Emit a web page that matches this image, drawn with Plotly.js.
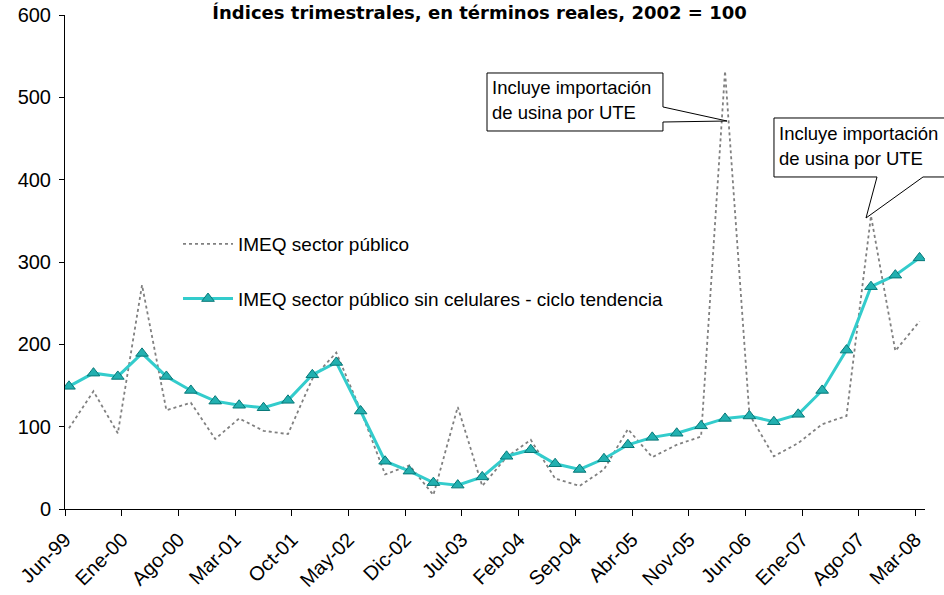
<!DOCTYPE html>
<html>
<head>
<meta charset="utf-8">
<script src="https://cdn.plot.ly/plotly-3.0.1.min.js"></script>
<style>html,body{margin:0;padding:0;background:#fff;}#chart{width:944px;height:595px;}</style>
</head>
<body>
<div id="chart"></div>
<script>
// Quarterly periods (month of quarter end)
const quarters = [
  '1999-06','1999-09','1999-12','2000-03','2000-06','2000-09','2000-12','2001-03',
  '2001-06','2001-09','2001-12','2002-03','2002-06','2002-09','2002-12','2003-03',
  '2003-06','2003-09','2003-12','2004-03','2004-06','2004-09','2004-12','2005-03',
  '2005-06','2005-09','2005-12','2006-03','2006-06','2006-09','2006-12','2007-03',
  '2007-06','2007-09','2007-12','2008-03'
];
// IMEQ sector público
const imeqPublico = [
  98,143,92,272,120,129,85,110,
  95,91,158,190,120,42,53,17,
  124,28,63,84,37,28,48,97,
  63,78,88,532,115,64,80,103,
  113,356,192,228
];
// IMEQ sector público sin celulares - ciclo tendencia
const imeqSinCel = [
  149,165,161,189,161,144,131,126,
  123,132,163,178,119,58,46,32,
  29,39,64,72,55,48,61,78,
  87,92,101,110,113,106,115,144,
  193,270,284,305
];
const tickDates = [
  '1999-06-01','2000-01-01','2000-08-01','2001-03-01','2001-10-01','2002-05-01',
  '2002-12-01','2003-07-01','2004-02-01','2004-09-01','2005-04-01','2005-11-01',
  '2006-06-01','2007-01-01','2007-08-01','2008-03-01'
];
const tickLabels = [
  'Jun-99','Ene-00','Ago-00','Mar-01','Oct-01','May-02','Dic-02','Jul-03',
  'Feb-04','Sep-04','Abr-05','Nov-05','Jun-06','Ene-07','Ago-07','Mar-08'
];
const seriesNames = ['IMEQ sector público','IMEQ sector público sin celulares - ciclo tendencia'];
const noteText = ['Incluye importación','de usina por UTE'];
const titleText = 'Índices trimestrales, en términos reales, 2002 = 100';

// plot-area pixel geometry -> paper coordinates for callouts
const W = 944, H = 595, ML = 65, MR = 19, MT = 15, MB = 86;
const PW = W - ML - MR, PH = H - MT - MB;
const px = X => (X - ML) / PW;
const py = Y => (H - MB - Y) / PH;
function poly(pts){ return 'M' + pts.map(p => px(p[0]).toFixed(4) + ',' + py(p[1]).toFixed(4)).join(' L') + ' Z'; }

const font = 'Liberation Sans, Arial, sans-serif';

const traces = [
  {
    x: quarters, y: imeqPublico, name: seriesNames[0], type: 'scatter', mode: 'lines',
    xperiod: 'M1', xperiodalignment: 'middle',
    line: {color: '#808080', width: 1.8, dash: 'dot'},
    legendgroup: 'a'
  },
  {
    x: quarters, y: imeqSinCel, name: seriesNames[1], type: 'scatter', mode: 'lines+markers',
    xperiod: 'M1', xperiodalignment: 'middle',
    line: {color: '#33CCCC', width: 3},
    marker: {symbol: 'triangle-up', size: 11, color: '#22B0B0', line: {color: '#077878', width: 1}},
    legendgroup: 'b'
  }
];

const layout = {
  width: W, height: H,
  margin: {l: ML, r: MR, t: MT, b: MB},
  paper_bgcolor: '#fff', plot_bgcolor: '#fff',
  font: {family: font, size: 17, color: '#000'},
  title: {
    text: titleText, xref: 'container', yref: 'container', x: 0.508, y: 0.99, yanchor: 'top',
    font: {family: 'DejaVu Sans, Verdana, sans-serif', size: 18, weight: 'bold', color: '#000'}
  },
  showlegend: true,
  legend: {
    x: px(178), y: py(225), xanchor: 'left', yanchor: 'top',
    bgcolor: 'rgba(0,0,0,0)', font: {family: font, size: 19, color: '#000'},
    tracegroupgap: 27, itemwidth: 50
  },
  xaxis: {
    type: 'date', range: ['1999-06-01', '2008-04-06'],
    tickmode: 'array', tickvals: tickDates, ticktext: tickLabels,
    tickangle: -45, ticks: 'outside', ticklen: 6, tickcolor: '#000',
    ticklabelstandoff: 4,
    showline: true, linecolor: '#000', linewidth: 1,
    showgrid: false, zeroline: false,
    tickfont: {family: font, size: 20, color: '#000'}
  },
  yaxis: {
    range: [0, 600], dtick: 100, tick0: 0,
    ticks: 'outside', ticklen: 5, tickcolor: '#000',
    ticklabelstandoff: 4,
    showline: true, linecolor: '#000', linewidth: 1,
    showgrid: false, zeroline: false,
    tickfont: {family: font, size: 20, color: '#000'}
  },
  shapes: [
    {type: 'path', xref: 'paper', yref: 'paper', layer: 'above',
     path: poly([[487,73],[663,73],[663,107],[727,121],[663,122],[663,131],[487,131]]),
     line: {color: '#000', width: 1}, fillcolor: '#fff'},
    {type: 'path', xref: 'paper', yref: 'paper', layer: 'above',
     path: poly([[774,118],[960,118],[960,177],[923,177],[866,218],[877,177],[774,177]]),
     line: {color: '#000', width: 1}, fillcolor: '#fff'}
  ],
  annotations: [
    {xref: 'paper', yref: 'paper', x: px(490), y: py(87), xanchor: 'left', yanchor: 'middle',
     text: noteText[0], showarrow: false, font: {family: font, size: 18.5, color: '#000'}},
    {xref: 'paper', yref: 'paper', x: px(490), y: py(112), xanchor: 'left', yanchor: 'middle',
     text: noteText[1], showarrow: false, font: {family: font, size: 18.5, color: '#000'}},
    {xref: 'paper', yref: 'paper', x: px(777), y: py(133), xanchor: 'left', yanchor: 'middle',
     text: noteText[0], showarrow: false, font: {family: font, size: 18.5, color: '#000'}},
    {xref: 'paper', yref: 'paper', x: px(777), y: py(158), xanchor: 'left', yanchor: 'middle',
     text: noteText[1], showarrow: false, font: {family: font, size: 18.5, color: '#000'}}
  ]
};

Plotly.newPlot('chart', traces, layout, {displayModeBar: false, staticPlot: true});
</script>
</body>
</html>
